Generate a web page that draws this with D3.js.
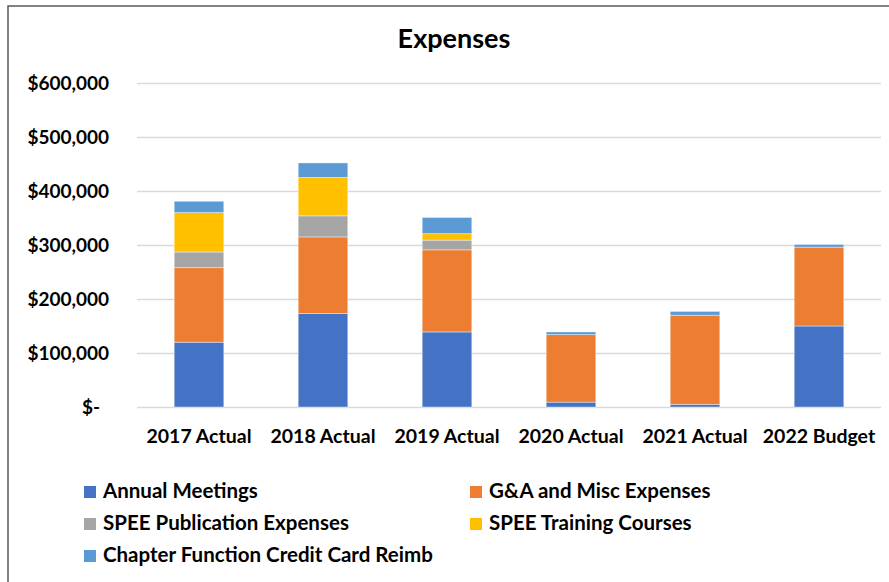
<!DOCTYPE html>
<html>
<head>
<meta charset="utf-8">
<script src="https://cdn.jsdelivr.net/npm/d3@7"></script>
<style>
  body { margin: 0; background: #fff; }
  text { font-family: Lato, "Open Sans", sans-serif; font-weight: bold; fill: #000; }
</style>
</head>
<body>
<svg id="chart" width="889" height="582"></svg>
<script>
// values (dollars)
const years = ["2017 Actual", "2018 Actual", "2019 Actual", "2020 Actual", "2021 Actual", "2022 Budget"];
const annualMeetings = [120000, 173000, 139000, 9000, 5000, 150000];
const gaMisc = [138000, 142000, 152000, 125000, 165000, 146000];
const publication = [29000, 39000, 18000, 0, 0, 0];
const training = [73000, 71000, 12000, 0, 0, 0];
const chapterReimb = [21000, 27000, 30000, 5000, 7000, 5000];
const seriesNames = ["Annual Meetings", "G&A and Misc Expenses", "SPEE Publication Expenses", "SPEE Training Courses", "Chapter Function Credit Card Reimb"];
const yTicks = [0, 100000, 200000, 300000, 400000, 500000, 600000];

const colors = ["#4472C4", "#ED7D31", "#A5A5A5", "#FFC000", "#5B9BD5"];
const keys = ["am", "ga", "pub", "tr", "ch"];

const rows = years.map((y, i) => ({
    year: y,
    am: annualMeetings[i],
    ga: gaMisc[i],
    pub: publication[i],
    tr: training[i],
    ch: chapterReimb[i]
}));

const svg = d3.select("#chart");

// outer frame
svg.append("rect")
    .attr("x", 8).attr("y", 6)
    .attr("width", 900).attr("height", 600)
    .attr("fill", "none")
    .attr("stroke", "#595959")
    .attr("stroke-width", 1.5);

const x = d3.scaleBand()
    .domain(years)
    .range([137, 881])
    .paddingInner(0.6)
    .paddingOuter(0.3);

const y = d3.scaleLinear()
    .domain([0, 600000])
    .range([407, 83]);

// y axis with gridlines
const yAxis = svg.append("g")
    .attr("transform", "translate(137,0)")
    .call(d3.axisLeft(y)
        .tickValues(yTicks)
        .tickSize(-744)
        .tickPadding(28)
        .tickFormat(d => d === 0 ? "$-" : "$" + d3.format(",")(d)));
yAxis.select(".domain").remove();
yAxis.selectAll(".tick line").attr("stroke", "#d9d9d9").attr("stroke-width", 1.5);
yAxis.selectAll(".tick text")
    .style("font-size", "19px")
    .attr("dx", d => d === 0 ? -9 : 0);

// x axis labels
const xAxis = svg.append("g")
    .attr("transform", "translate(0,407)")
    .call(d3.axisBottom(x).tickSize(0).tickPadding(0));
xAxis.select(".domain").remove();
xAxis.selectAll(".tick text")
    .style("font-size", "19.5px")
    .attr("y", 36)
    .attr("dy", null);

// stacked bars
const stacked = d3.stack().keys(keys)(rows);
svg.append("g").selectAll("g")
    .data(stacked)
    .join("g")
    .attr("fill", (d, i) => colors[i])
    .selectAll("rect")
    .data(d => d)
    .join("rect")
    .attr("x", d => x(d.data.year))
    .attr("y", d => y(d[1]))
    .attr("width", x.bandwidth())
    .attr("height", d => y(d[0]) - y(d[1]))
    .attr("stroke", "#ffffff")
    .attr("stroke-opacity", 0.5)
    .attr("stroke-width", 0.8);

// title
svg.append("text")
    .attr("x", 454).attr("y", 48)
    .attr("text-anchor", "middle")
    .style("font-size", "27px")
    .text("Expenses");

// legend
const legendPos = [[84, 498], [470, 498], [84, 530], [470, 530], [84, 562]];
const legend = svg.append("g").selectAll("g")
    .data(seriesNames)
    .join("g")
    .attr("transform", (d, i) => `translate(${legendPos[i][0]},${legendPos[i][1]})`);
legend.append("rect")
    .attr("x", 0).attr("y", -12)
    .attr("width", 12).attr("height", 12)
    .attr("fill", (d, i) => colors[i]);
legend.append("text")
    .attr("x", 19).attr("y", 0)
    .style("font-size", "20.5px")
    .text(d => d);
</script>
</body>
</html>
